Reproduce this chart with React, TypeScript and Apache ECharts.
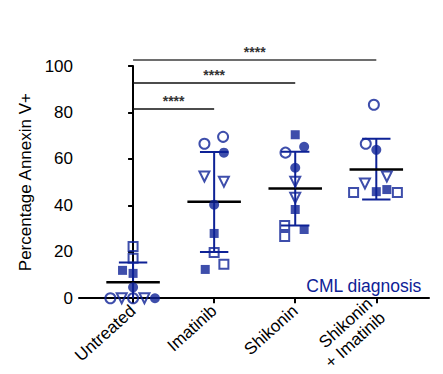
import React, { useEffect, useRef } from "react";
import * as echarts from "echarts";

const categories = ["Untreated", "Imatinib", "Shikonin", "Shikonin\n+ Imatinib"];
const yTicks = [0, 20, 40, 60, 80, 100];

// [group index, value, horizontal jitter]
const filledSquare = [[0, 12, -0.13], [0, 10.7, 0], [1, 27.9, 0], [1, 12.4, -0.11], [2, 70.4, 0], [2, 38.2, 0], [2, 29.6, 0.11], [3, 45.9, 0], [3, 46.8, 0.13]];
const openSquare = [[0, 22.3, 0], [0, 17.2, 0], [1, 19.7, 0], [1, 14.6, 0.12], [2, 31.3, -0.13], [2, 26.6, -0.13], [3, 45.5, -0.28], [3, 45.5, 0.26]];
const filledCircle = [[0, 4.7, 0], [0, 0, 0.27], [1, 62.7, 0.12], [1, 40.3, 0], [2, 65.2, 0.11], [2, 56.2, 0], [3, 63.9, 0]];
const openCircle = [[0, 0, -0.28], [0, 0, 0], [1, 66.5, -0.12], [1, 69.5, 0.11], [2, 62.7, -0.12], [3, 83.3, -0.03], [3, 66.5, -0.13]];
const openTriangle = [[0, 0, -0.14], [0, 0, 0.14], [1, 52.4, -0.12], [1, 50.2, 0.12], [2, 50.2, 0], [2, 43.3, 0], [3, 52.4, 0.13], [3, 49.4, -0.14]];

const means = [6.9, 41.6, 47.2, 55.4];
const sdUpper = [15.4, 63, 63.1, 68.7];
const sdLower = [-1.6, 19.9, 31.3, 42.5];

// [from group, to group, height]
const brackets = [[0, 1, 81.5], [0, 2, 92.7], [0, 3, 102.6]];
const bracketLabels = ["****", "****", "****"];

const BLUE = "#0e2296";
const FONT = "'Liberation Sans', Arial, Helvetica, sans-serif";

function pts(arr: number[][]) {
  return arr.map((d) => [d[0] + d[2], d[1]]);
}

export default function App() {
  const ref = useRef<HTMLDivElement>(null);
  useEffect(() => {
    if (!ref.current) return;
    const chart = echarts.init(ref.current, null, { renderer: "svg" });
    const open = { color: "rgba(0,0,0,0)", borderColor: BLUE, borderWidth: 2 };
    const filled = { color: BLUE };
    chart.setOption({
      animation: false,
      grid: { left: 79, right: 14, top: 66, bottom: 75 },
      xAxis: {
        type: "value",
        min: -0.667,
        max: 3.65,
        splitLine: { show: false },
        axisLine: { show: true, lineStyle: { color: "#000", width: 2 } },
        axisTick: { show: true, customValues: [0, 1, 2, 3], length: 5, lineStyle: { color: "#000", width: 2 } },
        axisLabel: {
          customValues: [0, 1, 2, 3],
          formatter: (v: number) => categories[Math.round(v)] ?? "",
          rotate: 42,
          fontSize: 17,
          fontFamily: FONT,
          color: "#000",
          margin: 10,
          lineHeight: 19,
        },
      },
      yAxis: {
        type: "value",
        min: 0,
        max: 100,
        interval: 20,
        name: "Percentage Annexin V+",
        nameLocation: "middle",
        nameGap: 44,
        nameTextStyle: { fontSize: 17, fontFamily: FONT, color: "#000" },
        splitLine: { show: false },
        axisLine: { show: true, lineStyle: { color: "#000", width: 2 } },
        axisTick: { show: true, length: 5, lineStyle: { color: "#000", width: 2 } },
        axisLabel: {
          fontSize: 17,
          fontFamily: FONT,
          color: "#000",
          margin: 6,
          formatter: (v: number) => (yTicks.includes(v) ? String(v) : ""),
        },
      },
      graphic: [
        {
          type: "text",
          right: 21,
          top: 277,
          style: { text: "CML diagnosis", fontSize: 17.5, fontFamily: FONT, fill: BLUE },
        },
      ],
      series: [
        {
          type: "custom",
          clip: true,
          z: 1,
          data: means.map((m, i) => [i, m, sdLower[i], sdUpper[i]]),
          encode: { x: 0, y: [1, 2, 3] },
          renderItem: (params: any, api: any) => {
            const g = api.value(0);
            const lo = api.coord([g, api.value(2)]);
            const hi = api.coord([g, api.value(3)]);
            const capL = api.coord([g - 0.175, 0])[0];
            const capR = api.coord([g + 0.175, 0])[0];
            const st = { stroke: BLUE, lineWidth: 2 };
            return {
              type: "group",
              children: [
                { type: "line", shape: { x1: lo[0], y1: lo[1], x2: hi[0], y2: hi[1] }, style: st },
                { type: "line", shape: { x1: capL, y1: hi[1], x2: capR, y2: hi[1] }, style: st },
                { type: "line", shape: { x1: capL, y1: lo[1], x2: capR, y2: lo[1] }, style: st },
              ],
            };
          },
        },
        {
          type: "custom",
          z: 2,
          data: means.map((m, i) => [i, m]),
          encode: { x: 0, y: 1 },
          renderItem: (params: any, api: any) => {
            const g = api.value(0);
            const a = api.coord([g - 0.33, api.value(1)]);
            const b = api.coord([g + 0.33, api.value(1)]);
            return {
              type: "line",
              shape: { x1: a[0], y1: a[1], x2: b[0], y2: b[1] },
              style: { stroke: "#000", lineWidth: 2.5 },
            };
          },
        },
        {
          type: "custom",
          clip: false,
          z: 2,
          data: brackets.map((b) => [b[0], b[1], b[2]]),
          encode: { x: [0, 1], y: 2 },
          renderItem: (params: any, api: any) => {
            const a = api.coord([api.value(0), api.value(2)]);
            const b = api.coord([api.value(1), api.value(2)]);
            const isTop = params.dataIndex === brackets.length - 1;
            return {
              type: "group",
              children: [
                {
                  type: "line",
                  shape: { x1: a[0], y1: a[1], x2: b[0], y2: b[1] },
                  style: { stroke: isTop ? "#6e6e6e" : "#111", lineWidth: isTop ? 2 : 1.5 },
                },
                {
                  type: "text",
                  x: (a[0] + b[0]) / 2,
                  y: a[1] - 1,
                  style: {
                    text: bracketLabels[params.dataIndex],
                    fontSize: 14,
                    fontWeight: "bold",
                    fontFamily: FONT,
                    fill: "#333",
                    textAlign: "center",
                    textVerticalAlign: "bottom",
                  },
                },
              ],
            };
          },
        },
        { type: "scatter", z: 3, clip: false, symbol: "rect", symbolSize: 9, itemStyle: filled, data: pts(filledSquare) },
        { type: "scatter", z: 3, clip: false, symbol: "rect", symbolSize: 9, itemStyle: open, data: pts(openSquare) },
        { type: "scatter", z: 3, clip: false, symbol: "circle", symbolSize: 10, itemStyle: filled, data: pts(filledCircle) },
        { type: "scatter", z: 3, clip: false, symbol: "circle", symbolSize: 10, itemStyle: open, data: pts(openCircle) },
        { type: "scatter", z: 3, clip: false, symbol: "triangle", symbolRotate: 180, symbolSize: 10, itemStyle: open, data: pts(openTriangle) },
      ],
    });
    return () => chart.dispose();
  }, []);
  return <div ref={ref} style={{ position: "absolute", left: 0, top: 0, width: 443, height: 374 }} />;
}
